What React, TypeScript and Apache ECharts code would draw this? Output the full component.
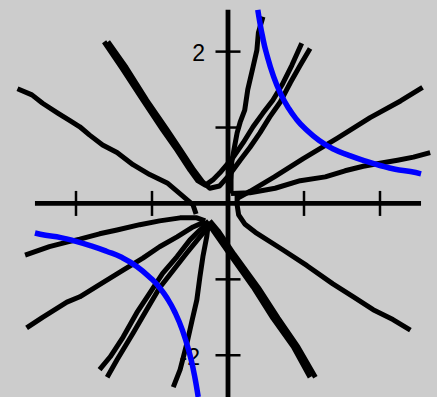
import React, { useEffect, useRef } from "react";
import * as echarts from "echarts";

// Visible extent of the drawn coordinate axes
const AXIS_X_RANGE = [-2.54, 2.54];
const AXIS_Y_RANGE = [-2.55, 2.55];

// Axis ticks and the labelled tick values
const X_TICKS = [-2, -1, 1, 2];
const Y_TICKS = [-2, -1, 1, 2];
const Y_TICK_LABELS = [
  { value: 2, text: "2" },
  { value: -2, text: "-2" },
];

// Hyperbola branches (blue), cut at the axis box
const BLUE_RIGHT_X = [0.392, 0.42, 0.45, 0.5, 0.6, 0.7, 0.8, 0.9, 1.0, 1.2, 1.4, 1.6, 1.8, 2.0, 2.2, 2.4, 2.54];
const BLUE_RIGHT_Y = [2.55, 2.38, 2.22, 2.0, 1.67, 1.43, 1.25, 1.11, 1.0, 0.83, 0.71, 0.63, 0.56, 0.5, 0.45, 0.42, 0.39];
const BLUE_LEFT_X = [-2.54, -2.4, -2.2, -2.0, -1.8, -1.6, -1.4, -1.2, -1.0, -0.9, -0.8, -0.7, -0.6, -0.5, -0.45, -0.42, -0.392];
const BLUE_LEFT_Y = [-0.39, -0.42, -0.45, -0.5, -0.56, -0.63, -0.71, -0.83, -1.0, -1.11, -1.25, -1.43, -1.67, -2.0, -2.22, -2.38, -2.55];

// Black traced curves, [x, y] points
const CURVE_A = [[-2.77, 1.51], [-2.58, 1.43], [-2.44, 1.32], [-2.24, 1.19], [-2.08, 1.09], [-1.95, 1.01], [-1.82, 0.9], [-1.65, 0.77], [-1.46, 0.67], [-1.25, 0.51], [-1.03, 0.38], [-0.8, 0.27], [-0.61, 0.11], [-0.46, -0.02], [-0.42, -0.14]];
const CURVE_V1 = [[-1.63, 2.13], [-1.4, 1.79], [-1.12, 1.36], [-0.86, 0.97], [-0.67, 0.7], [-0.5, 0.44], [-0.4, 0.3], [-0.3, 0.24], [-0.2, 0.31], [-0.11, 0.4], [0.07, 0.61], [0.2, 0.8], [0.33, 1.01], [0.46, 1.19], [0.59, 1.36], [0.71, 1.56], [0.84, 1.82], [0.97, 2.11]];
const CURVE_V2 = [[-1.58, 2.13], [-1.34, 1.79], [-1.07, 1.36], [-0.8, 0.97], [-0.62, 0.7], [-0.45, 0.44], [-0.33, 0.28], [-0.24, 0.2], [-0.11, 0.23], [0.03, 0.39], [0.16, 0.57], [0.29, 0.74], [0.42, 0.93], [0.55, 1.14], [0.69, 1.34], [0.82, 1.59], [0.95, 1.82], [1.08, 2.04]];
const CURVE_C = [[0.46, 2.46], [0.4, 2.25], [0.38, 2.02], [0.33, 1.8], [0.26, 1.5], [0.22, 1.23], [0.16, 1.07], [0.12, 0.93], [0.09, 0.77], [0.05, 0.55], [0.04, 0.31], [0.04, 0.13]];
const CURVE_E = [[0.04, 0.13], [0.29, 0.14], [0.62, 0.2], [0.95, 0.3], [1.28, 0.35], [1.54, 0.43], [1.78, 0.49], [2.0, 0.53], [2.23, 0.57], [2.44, 0.61], [2.66, 0.67]];
const CURVE_D = [[0.13, 0.07], [0.29, 0.16], [0.61, 0.35], [0.99, 0.59], [1.44, 0.86], [1.87, 1.13], [2.27, 1.35], [2.56, 1.53]];
const CURVE_L = [[0.12, 0.14], [0.12, -0.02], [0.14, -0.15], [0.22, -0.27], [0.36, -0.38], [0.72, -0.61], [1.04, -0.82], [1.38, -1.06], [1.65, -1.23], [1.91, -1.4], [2.17, -1.53], [2.4, -1.67]];
const CURVE_K1 = [[-0.3, -0.23], [-0.2, -0.35], [0.01, -0.65], [0.33, -1.1], [0.59, -1.51], [0.86, -1.89], [1.08, -2.29]];
const CURVE_K2 = [[-0.24, -0.23], [-0.13, -0.36], [0.08, -0.67], [0.4, -1.11], [0.66, -1.51], [0.92, -1.89], [1.15, -2.29]];
const CURVE_G = [[-2.67, -0.68], [-2.35, -0.57], [-2.12, -0.51], [-1.95, -0.47], [-1.69, -0.4], [-1.46, -0.35], [-1.16, -0.28], [-0.9, -0.23], [-0.63, -0.19], [-0.41, -0.19], [-0.3, -0.23]];
const CURVE_H = [[-2.65, -1.64], [-2.44, -1.5], [-2.12, -1.3], [-1.95, -1.23], [-1.69, -1.07], [-1.38, -0.88], [-1.12, -0.72], [-0.9, -0.57], [-0.67, -0.44], [-0.46, -0.31], [-0.3, -0.24]];
const CURVE_I1 = [[-1.69, -2.19], [-1.55, -2.02], [-1.38, -1.76], [-1.2, -1.44], [-1.03, -1.18], [-0.86, -0.92], [-0.67, -0.7], [-0.5, -0.48], [-0.37, -0.35], [-0.28, -0.27]];
const CURVE_I2 = [[-1.59, -2.29], [-1.46, -2.06], [-1.25, -1.71], [-1.07, -1.4], [-0.9, -1.11], [-0.72, -0.88], [-0.54, -0.65], [-0.37, -0.44], [-0.26, -0.31]];
const CURVE_J = [[-0.72, -2.42], [-0.63, -2.19], [-0.54, -1.84], [-0.47, -1.53], [-0.41, -1.27], [-0.37, -0.97], [-0.33, -0.7], [-0.28, -0.44], [-0.26, -0.28]];

const BLACK_CURVES = [CURVE_A, CURVE_V1, CURVE_V2, CURVE_C, CURVE_E, CURVE_D, CURVE_L, CURVE_K1, CURVE_K2, CURVE_G, CURVE_H, CURVE_I1, CURVE_I2, CURVE_J];

const BG = "#cccccc";
const TICK_HALF = 12.5;
const AXIS_WIDTH = 4.8;

const zip = (xs: number[], ys: number[]) => xs.map((x, i) => [x, ys[i]]);

export default function App() {
  const ref = useRef<HTMLDivElement>(null);

  useEffect(() => {
    document.body.style.margin = "0";
    document.body.style.background = BG;
    const chart = echarts.init(ref.current!, null, { renderer: "svg" });

    const blackSeries = BLACK_CURVES.map((pts) => ({
      type: "line",
      data: pts,
      symbol: "none",
      z: 3,
      lineStyle: { color: "#000", width: 5, join: "round", cap: "butt" },
    }));

    const blueStyle = { color: "#0000ff", width: 5.5, join: "round" };

    const hiddenAxis = {
      type: "value",
      axisLine: { show: false },
      axisTick: { show: false },
      axisLabel: { show: false },
      splitLine: { show: false },
    };

    chart.setOption({
      animation: false,
      backgroundColor: BG,
      grid: { left: 0, top: 0, right: 0, bottom: 0 },
      xAxis: { ...hiddenAxis, min: -3.0, max: 2.75 },
      yAxis: { ...hiddenAxis, min: -2.55, max: 2.68 },
      series: [
        // coordinate axes
        {
          type: "custom",
          silent: true,
          z: 1,
          data: [[0]],
          renderItem: (_params: any, api: any) => {
            const xa = api.coord([AXIS_X_RANGE[0], 0]);
            const xb = api.coord([AXIS_X_RANGE[1], 0]);
            const ya = api.coord([0, AXIS_Y_RANGE[0]]);
            const yb = api.coord([0, AXIS_Y_RANGE[1]]);
            const style = { stroke: "#000", lineWidth: AXIS_WIDTH };
            return {
              type: "group",
              children: [
                { type: "line", shape: { x1: xa[0], y1: xa[1], x2: xb[0], y2: xb[1] }, style },
                { type: "line", shape: { x1: ya[0], y1: ya[1], x2: yb[0], y2: yb[1] }, style },
              ],
            };
          },
        },
        // tick labels
        {
          type: "custom",
          silent: true,
          z: 1,
          data: Y_TICK_LABELS.map((d) => [0, d.value]),
          renderItem: (params: any, api: any) => {
            const p = api.coord([api.value(0), api.value(1)]);
            const item = Y_TICK_LABELS[params.dataIndex];
            const dx = item.value < 0 ? -28 : -23;
            return {
              type: "text",
              x: p[0] + dx,
              y: p[1] + 1.5,
              style: {
                text: item.text,
                fill: "#000",
                fontSize: 23,
                fontFamily: "'Liberation Sans', Arial, sans-serif",
                align: "right",
                verticalAlign: "middle",
              },
            };
          },
        },
        // x ticks
        {
          type: "custom",
          silent: true,
          z: 2,
          data: X_TICKS.map((v) => [v, 0]),
          renderItem: (_params: any, api: any) => {
            const p = api.coord([api.value(0), api.value(1)]);
            return {
              type: "line",
              shape: { x1: p[0], y1: p[1] - TICK_HALF, x2: p[0], y2: p[1] + TICK_HALF },
              style: { stroke: "#000", lineWidth: 2.5 },
            };
          },
        },
        // y ticks
        {
          type: "custom",
          silent: true,
          z: 2,
          data: Y_TICKS.map((v) => [0, v]),
          renderItem: (_params: any, api: any) => {
            const p = api.coord([api.value(0), api.value(1)]);
            return {
              type: "line",
              shape: { x1: p[0] - TICK_HALF, y1: p[1], x2: p[0] + TICK_HALF, y2: p[1] },
              style: { stroke: "#000", lineWidth: 2.5 },
            };
          },
        },
        ...blackSeries,
        {
          type: "line",
          data: zip(BLUE_RIGHT_X, BLUE_RIGHT_Y),
          symbol: "none",
          smooth: true,
          z: 4,
          lineStyle: blueStyle,
        },
        {
          type: "line",
          data: zip(BLUE_LEFT_X, BLUE_LEFT_Y),
          symbol: "none",
          smooth: true,
          z: 4,
          lineStyle: blueStyle,
        },
      ],
    });

    return () => chart.dispose();
  }, []);

  return <div ref={ref} style={{ width: 437, height: 397, background: BG }} />;
}
